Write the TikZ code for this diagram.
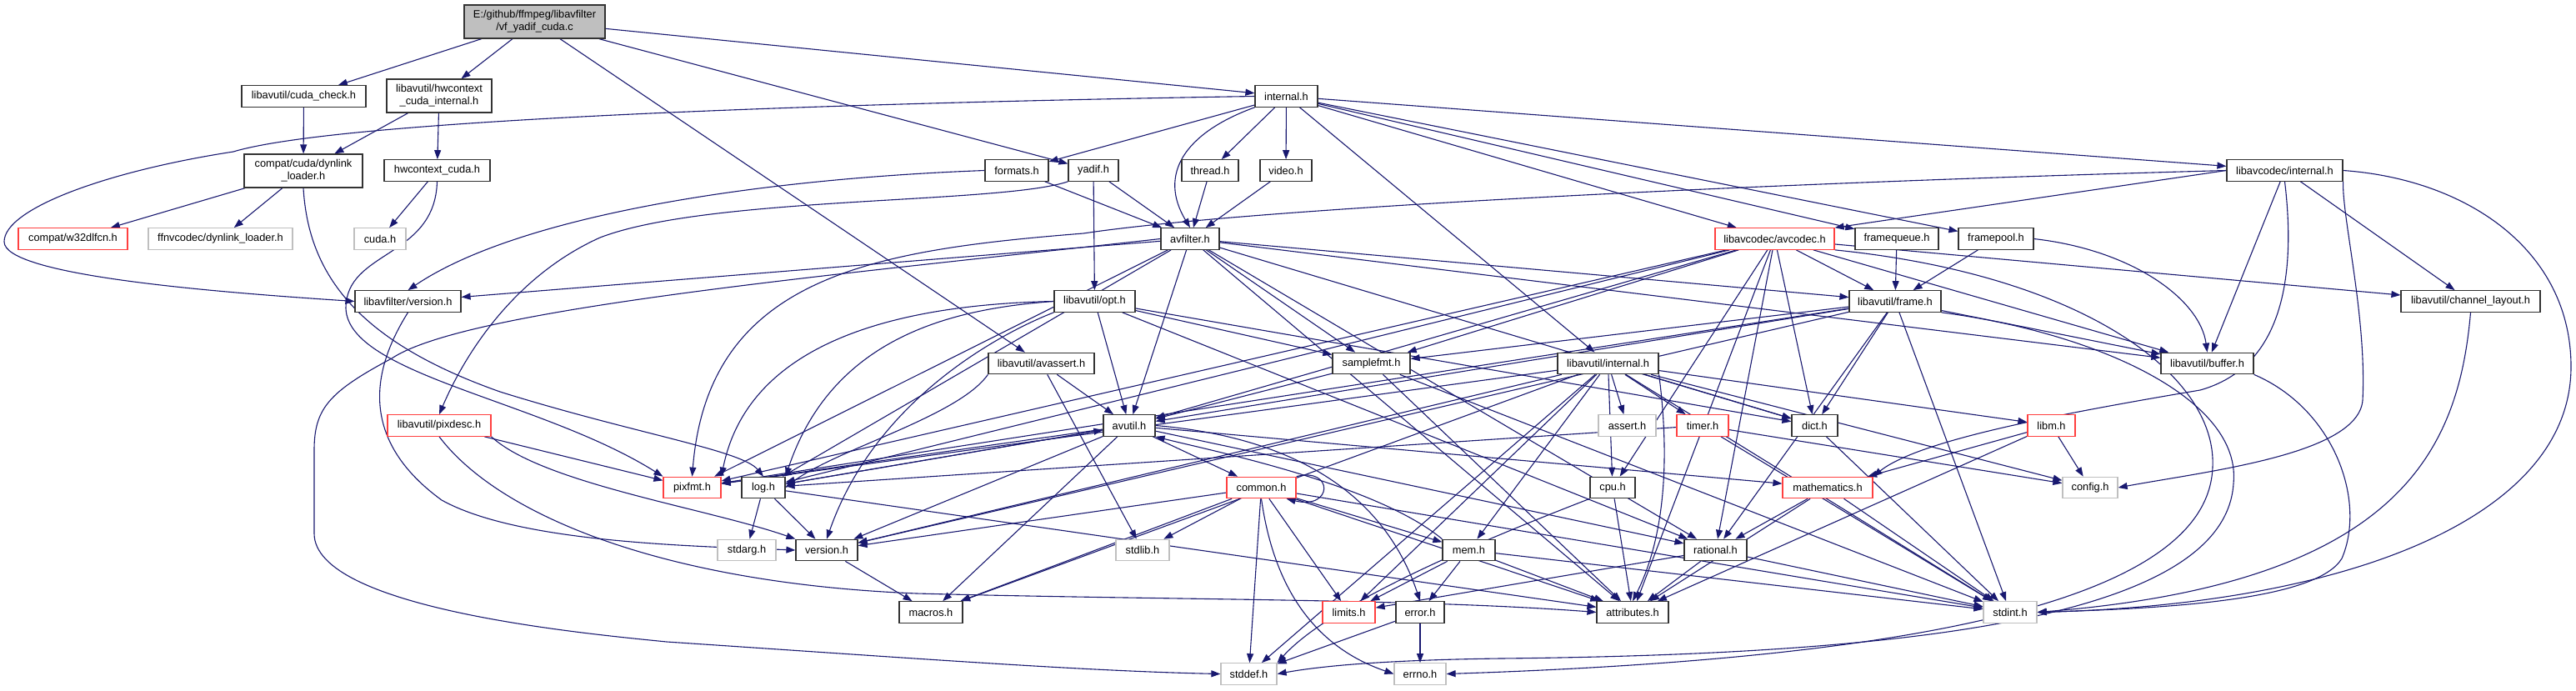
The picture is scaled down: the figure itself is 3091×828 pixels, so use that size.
\documentclass[tikz,border=0pt]{standalone}
\usepackage{fontspec}
\setmainfont{Liberation Sans}
\usetikzlibrary{arrows.meta}
\definecolor{edgec}{HTML}{191970}
\definecolor{redb}{HTML}{FF4040}
\definecolor{grayb}{HTML}{BFBFBF}
\definecolor{mainfill}{HTML}{BFBFBF}
\newcommand\nodefont{\fontsize{12.8pt}{15pt}\selectfont}
\pgfdeclarelayer{bg}
\pgfdeclarelayer{edges}
\pgfsetlayers{bg,edges,main}
\begin{document}
\begin{tikzpicture}[x=1pt,y=-1pt,
  nd/.style={draw=black!80, line width=1.2pt, fill=white, inner sep=0pt, minimum height=25.5pt, font=\nodefont, align=center},
  nr/.style={nd, draw=redb},
  ng/.style={nd, draw=grayb},
  e/.style={draw=edgec, line width=1.1pt, -{Triangle[length=11pt,width=8pt]}}]
\useasboundingbox (0,0) rectangle (3091,828);
\begin{pgfonlayer}{bg}
\fill[white] (0,0) rectangle (3091,828);
\end{pgfonlayer}
% nodes
\node[nd, fill=mainfill, minimum width=169pt, minimum height=40pt] (main) at (641.5,26) {E:/github/ffmpeg/libavfilter\\/vf\_yadif\_cuda.c};
\node[nd, minimum width=149pt] (cudacheck) at (364.5,115.5) {libavutil/cuda\_check.h};
\node[nd, minimum width=126pt, minimum height=40pt] (hwint) at (527,115) {libavutil/hwcontext\\\_cuda\_internal.h};
\node[nd, minimum width=75pt] (intl) at (1543.5,115.5) {internal.h};
\node[nd, minimum width=142pt, minimum height=40pt] (dynl) at (364,205) {compat/cuda/dynlink\\\_loader.h};
\node[nd, minimum width=127pt] (hwcuda) at (524.5,204.5) {hwcontext\_cuda.h};
\node[nd, minimum width=76pt] (formats) at (1220,204.5) {formats.h};
\node[nd, minimum width=60pt] (yadif) at (1312,204.5) {yadif.h};
\node[nd, minimum width=68pt] (thread) at (1452,204.5) {thread.h};
\node[nd, minimum width=62pt] (video) at (1543,204.5) {video.h};
\node[nd, minimum width=139pt] (lcint) at (2741.5,204.5) {libavcodec/internal.h};
\node[nr, minimum width=131pt] (w32) at (87.5,286.5) {compat/w32dlfcn.h};
\node[ng, minimum width=173pt] (ffnv) at (264.5,286.5) {ffnvcodec/dynlink\_loader.h};
\node[ng, minimum width=62pt] (cudah) at (456,286.5) {cuda.h};
\node[nd, minimum width=70pt] (avfilter) at (1428,286.5) {avfilter.h};
\node[nr, minimum width=143pt] (avcodec) at (2129.5,286.5) {libavcodec/avcodec.h};
\node[nd, minimum width=100pt] (fq) at (2276,286.5) {framequeue.h};
\node[nd, minimum width=90pt] (fp) at (2395,286.5) {framepool.h};
\node[nd, minimum width=127pt] (lfver) at (489.5,361.5) {libavfilter/version.h};
\node[nd, minimum width=97pt] (opt) at (1313.5,361.5) {libavutil/opt.h};
\node[nd, minimum width=110pt] (frame) at (2274,361.5) {libavutil/frame.h};
\node[nd, minimum width=167pt] (chl) at (2964.5,361.5) {libavutil/channel\_layout.h};
\node[nd, minimum width=127pt] (avassert) at (1249.5,436) {libavutil/avassert.h};
\node[nd, minimum width=93pt] (samplefmt) at (1645.5,436) {samplefmt.h};
\node[nd, minimum width=121pt] (luint) at (1929.5,436) {libavutil/internal.h};
\node[nd, minimum width=111pt] (buffer) at (2648.5,436) {libavutil/buffer.h};
\node[nr, minimum width=124pt] (pixdesc) at (527,510.5) {libavutil/pixdesc.h};
\node[nd, minimum width=62pt] (avutil) at (1355,510.5) {avutil.h};
\node[ng, minimum width=69pt] (assert) at (1952.5,510.5) {assert.h};
\node[nr, minimum width=62pt] (timer) at (2043,510.5) {timer.h};
\node[nd, minimum width=55pt] (dict) at (2177.5,510.5) {dict.h};
\node[nr, minimum width=57pt] (libm) at (2461.5,510.5) {libm.h};
\node[nr, minimum width=69pt] (pixfmt) at (830.5,585) {pixfmt.h};
\node[nd, minimum width=52pt] (log) at (916,585) {log.h};
\node[nr, minimum width=83pt] (common) at (1513.5,585) {common.h};
\node[nd, minimum width=54pt] (cpu) at (1935,585) {cpu.h};
\node[nr, minimum width=108pt] (math) at (2193,585) {mathematics.h};
\node[ng, minimum width=66pt] (config) at (2508,585) {config.h};
\node[ng, minimum width=70pt] (stdarg) at (896,660) {stdarg.h};
\node[nd, minimum width=74pt] (version) at (992,660) {version.h};
\node[ng, minimum width=64pt] (stdlib) at (1371,660) {stdlib.h};
\node[nd, minimum width=63pt] (mem) at (1762.5,660) {mem.h};
\node[nd, minimum width=75pt] (rational) at (2058.5,660) {rational.h};
\node[nd, minimum width=76pt] (macros) at (1117,734.5) {macros.h};
\node[nr, minimum width=63pt] (limits) at (1618.5,734.5) {limits.h};
\node[nd, minimum width=58pt] (error) at (1704,734.5) {error.h};
\node[nd, minimum width=86pt] (attributes) at (1959,734.5) {attributes.h};
\node[ng, minimum width=64pt] (stdint) at (2412,734.5) {stdint.h};
\node[ng, minimum width=67pt] (stddef) at (1498.5,808.5) {stddef.h};
\node[ng, minimum width=62pt] (errno) at (1704,808.5) {errno.h};
% edges
\begin{pgfonlayer}{edges}
% main
\draw[e] (main) -- (cudacheck);
\draw[e] (main) -- (hwint);
\draw[e] (main) -- (avassert);
\draw[e] (main) -- (intl);
\draw[e] (main) -- (yadif);
% cuda
\draw[e] (cudacheck) -- (dynl);
\draw[e] (hwint) -- (dynl);
\draw[e] (hwint) -- (hwcuda);
\draw[e] (dynl) -- (w32);
\draw[e] (dynl) -- (ffnv);
\draw[e] (dynl.south) .. controls (370,330) and (430,410) .. (600,470) .. controls (760,520) and (890,540) .. (log.north);
\draw[e] (hwcuda) -- (cudah);
\draw[e] (hwcuda.south) .. controls (522,310) and (415,300) .. (415,370) .. controls (418,450) and (650,480) .. (pixfmt.north west);
% libavfilter/internal.h
\draw[e] (intl) -- (formats);
\draw[e] (intl.south west) .. controls (1420,160) and (1390,210) .. (avfilter.north);
\draw[e] (intl) -- (thread);
\draw[e] (intl) -- (video);
\draw[e] (intl) -- (luint);
\draw[e] (intl) -- (avcodec);
\draw[e] (intl) -- (fq);
\draw[e] (intl) -- (fp);
\draw[e] (intl) -- (lcint);
\draw[e] (intl.west) .. controls (1100,122) and (420,140) .. (280,182) .. controls (130,205) and (5,250) .. (5,290) .. controls (5,330) and (250,350) .. (lfver.west);
% formats, yadif, thread, video
\draw[e] (formats) -- (avfilter);
\draw[e] (formats.west) .. controls (900,215) and (620,260) .. (lfver.north);
\draw[e] (yadif) -- (avfilter);
\draw[e] (yadif) -- (opt);
\draw[e] (yadif.south west) .. controls (1200,245) and (850,235) .. (720,285) .. controls (620,330) and (560,420) .. (pixdesc.north);
\draw[e] (thread) -- (avfilter);
\draw[e] (video) -- (avfilter);
% libavcodec/internal.h
\draw[e] (lcint.west) -- (avcodec.north east);
\draw[e] (lcint.west) .. controls (2100,220) and (1500,250) .. (1300,280) .. controls (1050,300) and (850,330) .. (pixfmt.north);
\draw[e] (lcint.east) .. controls (2960,215) and (3085,300) .. (3085,440) .. controls (3085,620) and (2820,725) .. (stdint.east);
\draw[e] (lcint) -- (buffer);
\draw[e] (lcint) -- (chl);
\draw[e] (lcint.south) .. controls (2755,330) and (2740,440) .. (2640,468) .. controls (2450,500) and (2300,530) .. (math.north east);
\draw[e] (lcint.south east) .. controls (2810,260) and (2840,380) .. (2835,480) .. controls (2830,545) and (2650,565) .. (config.east);
% avfilter.h
\draw[e] (avfilter) -- (lfver);
\draw[e] (avfilter.west) .. controls (1000,330) and (560,370) .. (470,430) .. controls (395,470) and (377,490) .. (377,540) -- (377,640) .. controls (377,730) and (700,760) .. (800,770) .. controls (1100,790) and (1300,805) .. (stddef.west);
\draw[e] (avfilter) -- (pixfmt);
\draw[e] (avfilter) -- (log);
\draw[e] (avfilter) -- (avutil);
\draw[e] (avfilter) -- (samplefmt);
\draw[e] (avfilter) -- (attributes);
\draw[e] (avfilter) -- (frame);
\draw[e] (avfilter) -- (buffer);
\draw[e] (avfilter) -- (dict);
\draw[e] (avfilter) -- (rational);
% avcodec.h
\draw[e] (avcodec.south east) .. controls (2500,330) and (2660,450) .. (2655,560) .. controls (2650,720) and (2300,790) .. (errno.east);
\draw[e] (avcodec) -- (samplefmt);
\draw[e] (avcodec) -- (attributes);
\draw[e] (avcodec) -- (avutil);
\draw[e] (avcodec) -- (buffer);
\draw[e] (avcodec) -- (cpu);
\draw[e] (avcodec) -- (chl);
\draw[e] (avcodec) -- (dict);
\draw[e] (avcodec) -- (frame);
\draw[e] (avcodec) -- (log);
\draw[e] (avcodec) -- (pixfmt);
\draw[e] (avcodec) -- (rational);
% framequeue, framepool
\draw[e] (fq) -- (frame);
\draw[e] (fp) -- (frame);
\draw[e] (fp.east) .. controls (2560,300) and (2640,360) .. (buffer.north);
% libavfilter/version.h
\draw[e] (lfver.south) .. controls (455,430) and (420,520) .. (530,600) .. controls (620,650) and (820,655) .. (version.west);
% opt.h
\draw[e] (opt) -- (rational);
\draw[e] (opt) -- (avutil);
\draw[e] (opt) -- (dict);
\draw[e] (opt.west) .. controls (1150,370) and (1000,400) .. (log.north east);
\draw[e] (opt.west) .. controls (1100,365) and (900,400) .. (pixfmt.north east);
\draw[e] (opt) -- (samplefmt);
\draw[e] (opt.south west) .. controls (1200,400) and (1050,480) .. (version.north);
% frame.h
\draw[e] (frame.south east) .. controls (2520,400) and (2690,480) .. (2680,580) .. controls (2670,740) and (2300,785) .. (1800,790) .. controls (1650,792) and (1580,800) .. (stddef.east);
\draw[e] (frame) -- (stdint);
\draw[e] (frame) -- (avutil);
\draw[e] (frame) -- (buffer);
\draw[e] (frame) -- (dict);
\draw[e] (frame) -- (rational);
\draw[e] (frame) -- (samplefmt);
\draw[e] (frame) -- (pixfmt);
\draw[e] (frame) -- (version);
% channel_layout
\draw[e] (chl.south) .. controls (2950,540) and (2880,700) .. (stdint.east);
% avassert
\draw[e] (avassert) -- (stdlib);
\draw[e] (avassert) -- (avutil);
\draw[e] (avassert.south west) .. controls (1150,500) and (1000,540) .. (log.east);
% samplefmt
\draw[e] (samplefmt) -- (stdint);
\draw[e] (samplefmt) -- (avutil);
\draw[e] (samplefmt) -- (attributes);
% libavutil/internal.h
\draw[e] (luint) -- (limits);
\draw[e] (luint) -- (stdint);
\draw[e] (luint) -- (stddef);
\draw[e] (luint) -- (assert);
\draw[e] (luint) -- (config);
\draw[e] (luint.south east) .. controls (2005,560) and (1995,650) .. (attributes.north);
\draw[e] (luint) -- (timer);
\draw[e] (luint) -- (cpu);
\draw[e] (luint) -- (dict);
\draw[e] (luint) -- (macros);
\draw[e] (luint) -- (mem);
\draw[e] (luint) -- (pixfmt);
\draw[e] (luint) -- (version);
\draw[e] (luint) -- (libm);
% buffer
\draw[e] (buffer.south east) .. controls (2800,490) and (2840,600) .. (2810,670) .. controls (2780,720) and (2600,730) .. (stdint.east);
% pixdesc
\draw[e] (pixdesc) -- (pixfmt);
\draw[e] (pixdesc.south east) .. controls (650,580) and (850,610) .. (version.north west);
\draw[e] (pixdesc.south) .. controls (600,620) and (800,700) .. (1100,712) .. controls (1400,720) and (1700,718) .. (attributes.west);
% avutil
\draw[e] (avutil) -- (common);
\draw[e] (avutil.east) .. controls (1500,520) and (1650,560) .. (error.north);
\draw[e] (avutil) -- (rational);
\draw[e] (avutil) -- (version);
\draw[e] (avutil) -- (macros);
\draw[e] (avutil) -- (math);
\draw[e] (avutil) -- (log);
\draw[e] (avutil) -- (pixfmt);
% timer, dict, libm
\draw[e] (timer) -- (config);
\draw[e] (timer) -- (log);
\draw[e] (timer) -- (stdint);
\draw[e] (dict) -- (stdint);
\draw[e] (libm) -- (config);
\draw[e] (libm) -- (attributes);
\draw[e] (libm) -- (math);
% cpu, math
\draw[e] (cpu) -- (attributes);
\draw[e] (cpu.south west) .. controls (1800,640) and (1600,720) .. (stddef.north east);
\draw[e] (math) -- (stdint);
\draw[e] (math) -- (attributes);
\draw[e] (math) -- (rational);
% log, version
\draw[e] (log) -- (avutil);
\draw[e] (log) -- (attributes);
\draw[e] (log) -- (version);
\draw[e] (log) -- (stdarg);
\draw[e] (version) -- (macros);
% mem, rational, error
\draw[e] (mem) -- (attributes);
\draw[e] (mem) -- (error);
\draw[e] (mem.north west) .. controls (1650,580) and (1450,540) .. (avutil.south east);
\draw[e] (mem) -- (limits);
\draw[e] (mem) -- (stdint);
\draw[e] (rational) -- (attributes);
\draw[e] (rational) -- (stdint);
\draw[e] (rational) -- (limits);
\draw[e] (error) -- (errno);
\draw[e] (error) -- (stddef);
% common
\draw[e] (common.south) .. controls (1525,680) and (1560,770) .. (errno.west);
\draw[e] (common) -- (limits);
\draw[e] (common) -- (stdint);
\draw[e] (common) -- (stdlib);
\draw[e] (common) -- (attributes);
\draw[e] (common) -- (macros);
\draw[e] (common) -- (version);
\draw[e] (common) -- (mem);
\draw[e] (common) -- (stddef);
\draw[e] (common.north east) .. controls (1600,560) and (1600,612) .. ([xshift=-12pt]common.south east);
\end{pgfonlayer}
\end{tikzpicture}
\end{document}
